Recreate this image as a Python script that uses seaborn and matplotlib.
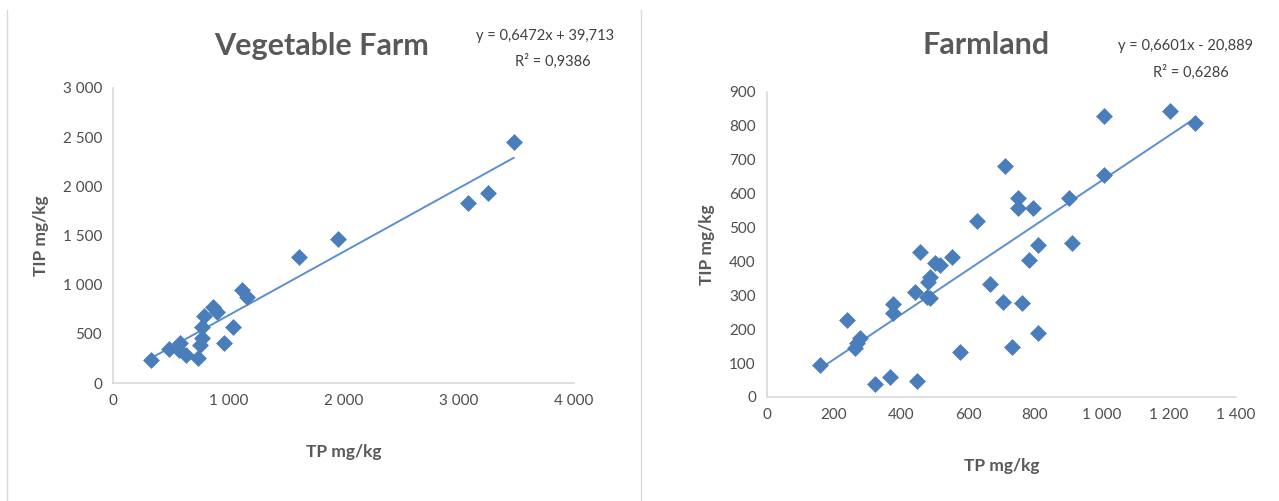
import seaborn as sns
import numpy as np
import matplotlib.pyplot as plt
import matplotlib.ticker as mticker
from matplotlib.lines import Line2D
import pandas as pd

# Vegetable Farm data (TP, TIP in mg/kg)
veg_tp = [327, 486, 575, 581, 633, 734, 754, 769, 775, 792, 870, 899, 966, 1044,
          1116, 1159, 1613, 1954, 3082, 3250, 3478]
veg_tip = [237, 343, 336, 404, 285, 251, 386, 455, 573, 682, 776, 725, 410, 573,
           946, 878, 1279, 1465, 1834, 1935, 2452]
veg_fit = (0.6472, 39.713)

# Farmland data
farm_tp = [158, 238, 263, 268, 277, 322, 367, 375, 375, 442, 447, 457, 477, 487,
           482, 487, 501, 516, 553, 576, 626, 666, 705, 710, 730, 750, 750, 760,
           783, 795, 808, 808, 901, 909, 1007, 1007, 1203, 1279]
farm_tip = [94, 227, 144, 158, 173, 38, 60, 247, 274, 309, 47, 427, 296, 291,
            340, 355, 396, 389, 412, 134, 519, 333, 281, 682, 147, 557, 586, 276,
            404, 557, 188, 448, 586, 453, 655, 829, 845, 808]
farm_fit = (0.6601, -20.889)

sns.set_theme(style="white")
plt.rcParams['font.family'] = ['Lato', 'DejaVu Sans']

gray = '#595959'
blue = '#4a7ebb'
line_blue = '#5b8fd0'

fig = plt.figure(figsize=(12.79, 5.01), dpi=100)
ax1 = fig.add_axes([0.0884, 0.2355, 0.3604, 0.5889])
ax2 = fig.add_axes([0.5997, 0.2076, 0.3667, 0.6088])


def space_fmt(v, pos):
    return f"{int(round(v)):,}".replace(",", " ")


def draw(ax, tp, tip, fit, xlim, ylim, xstep, ystep):
    df = pd.DataFrame({'TP': tp, 'TIP': tip})
    xs = np.array([min(tp), max(tp)])
    line_df = pd.DataFrame({'TP': xs, 'TIP': fit[0] * xs + fit[1]})
    sns.lineplot(data=line_df, x='TP', y='TIP', ax=ax, color=line_blue, lw=1.4)
    sns.scatterplot(data=df, x='TP', y='TIP', ax=ax, marker='D', s=65,
                    color=blue, edgecolor=blue, linewidth=0.5, zorder=3)
    ax.set_xlim(*xlim)
    ax.set_ylim(*ylim)
    ax.xaxis.set_major_locator(mticker.MultipleLocator(xstep))
    ax.yaxis.set_major_locator(mticker.MultipleLocator(ystep))
    ax.xaxis.set_major_formatter(mticker.FuncFormatter(space_fmt))
    ax.yaxis.set_major_formatter(mticker.FuncFormatter(space_fmt))
    for s in ['top', 'right']:
        ax.spines[s].set_visible(False)
    for s in ['left', 'bottom']:
        ax.spines[s].set_color('#d9d9d9')
        ax.spines[s].set_linewidth(1.2)
    ax.tick_params(axis='both', labelsize=11, colors='#4d4d4d', length=0, pad=8)
    ax.set_xlabel('TP mg/kg', fontsize=12.5, fontweight='bold', color=gray, labelpad=26)
    ax.set_ylabel('TIP mg/kg', fontsize=12.5, fontweight='bold', color=gray, labelpad=10)


draw(ax1, veg_tp, veg_tip, veg_fit, (0, 4000), (0, 3000), 1000, 500)
draw(ax2, farm_tp, farm_tip, farm_fit, (0, 1400), (0, 900), 200, 100)

# titles and equations
title_kw = dict(ha='center', va='center', fontsize=22, fontweight='bold', color=gray)
eq_kw = dict(ha='center', va='center', fontsize=10.5, color='#404040')
fig.text(322 / 1279, 1 - 46 / 501, 'Vegetable Farm', **title_kw)
fig.text(545 / 1279, 1 - 36 / 501, 'y = 0,6472x + 39,713', **eq_kw)
fig.text(553 / 1279, 1 - 61 / 501, 'R² = 0,9386', **eq_kw)
fig.text(986 / 1279, 1 - 45 / 501, 'Farmland', **title_kw)
fig.text(1185 / 1279, 1 - 46 / 501, 'y = 0,6601x - 20,889', **eq_kw)
fig.text(1191 / 1279, 1 - 72 / 501, 'R² = 0,6286', **eq_kw)

# panel borders
fig.add_artist(Line2D([7 / 1279, 7 / 1279], [0, 1 - 10 / 501], color='#d9d9d9', lw=1))
fig.add_artist(Line2D([641 / 1279, 641 / 1279], [0, 1 - 10 / 501], color='#d9d9d9', lw=1))

fig.savefig('out.png', dpi=100, facecolor='white')
